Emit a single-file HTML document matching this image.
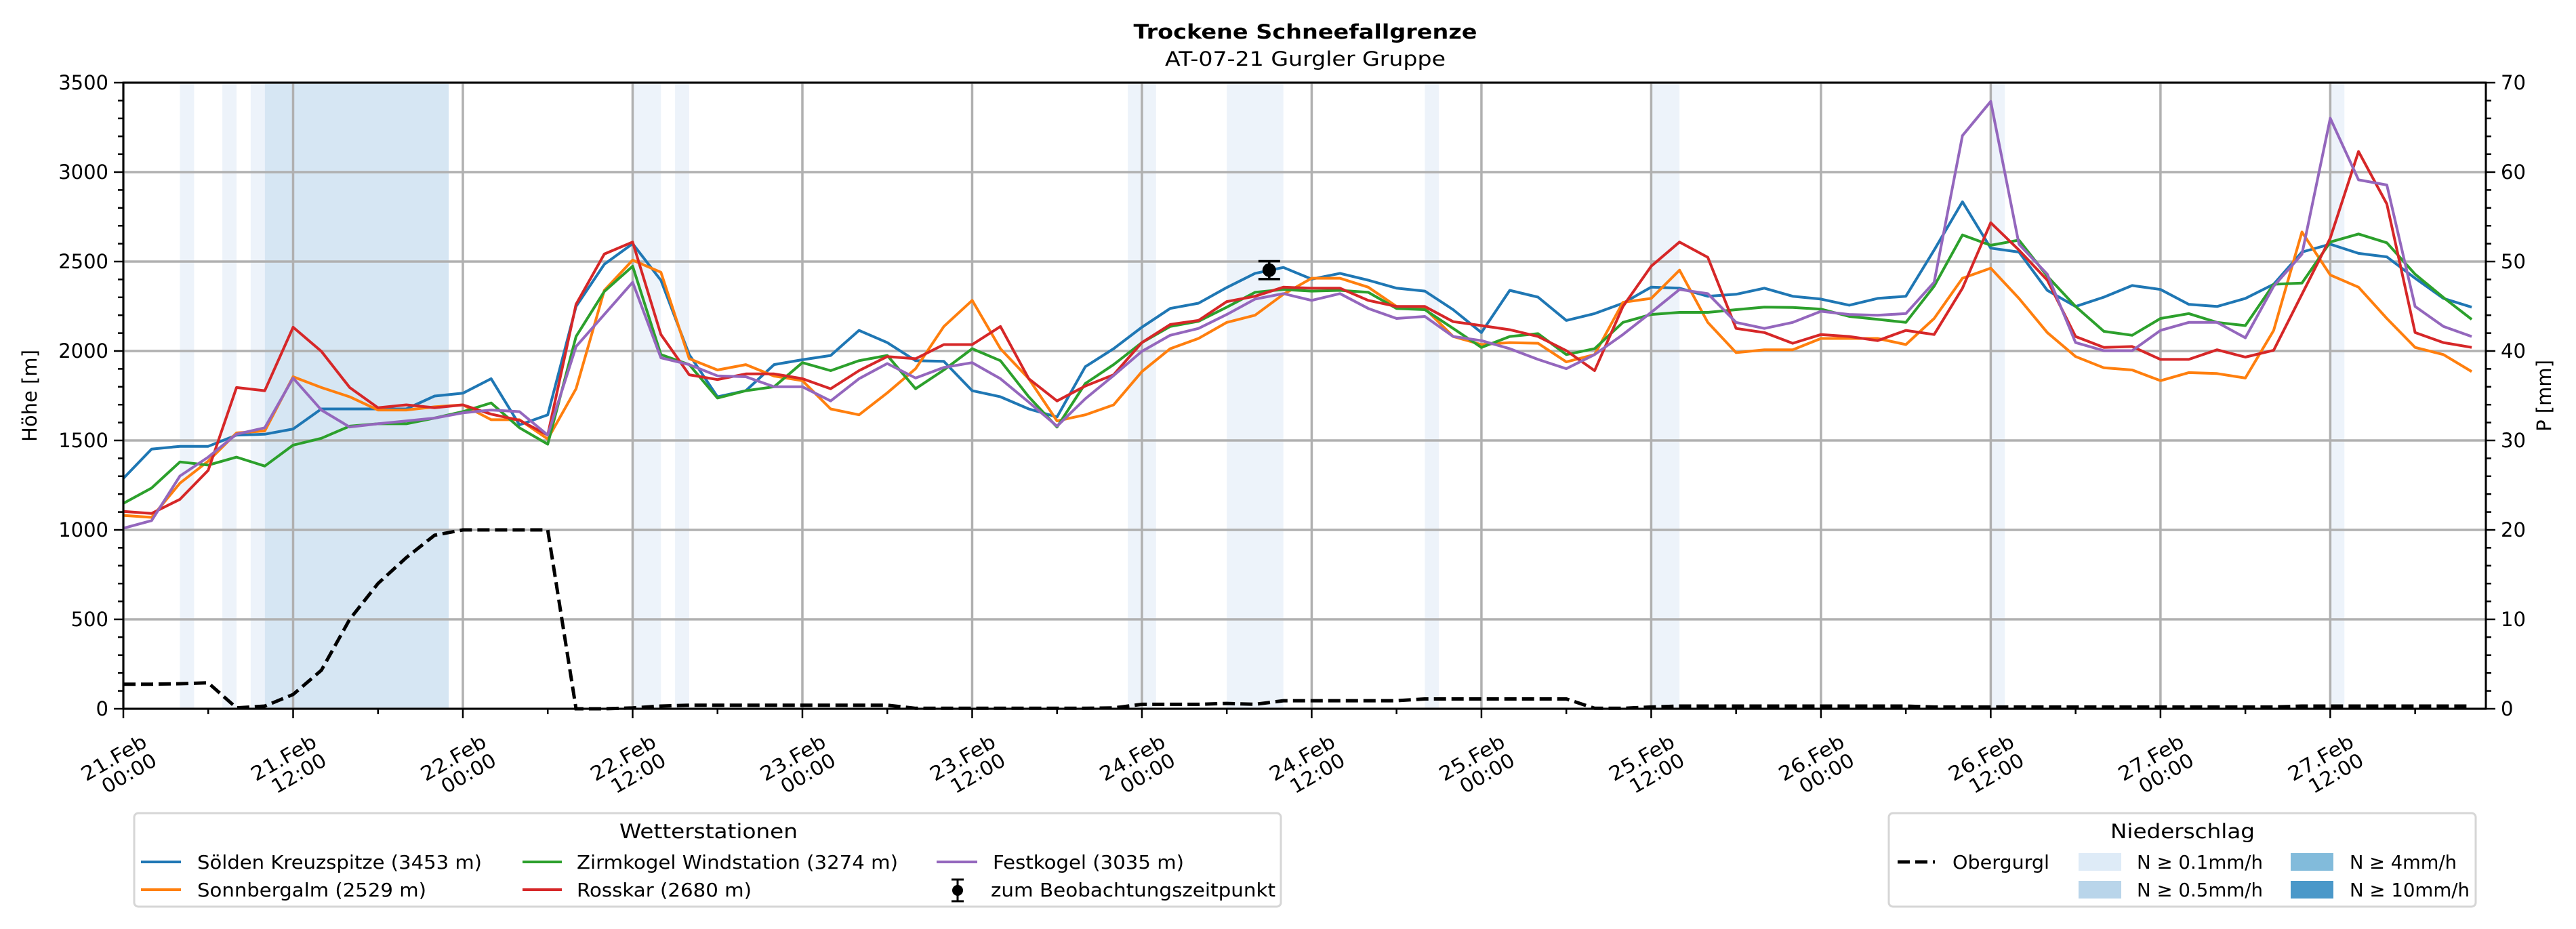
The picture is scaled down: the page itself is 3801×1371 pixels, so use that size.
<!DOCTYPE html>
<html><head><meta charset="utf-8">
<style>
html,body{margin:0;padding:0;background:#fff;}
svg{display:block;font-family:"DejaVu Sans","Liberation Sans",sans-serif;}
</style></head>
<body>
<svg id="chart" width="3801" height="1371" viewBox="0 0 3801 1371" xmlns="http://www.w3.org/2000/svg">
<rect width="3801" height="1371" fill="#fff"/>
<g id="bands"></g>
<g id="grid"></g>
<g id="series"></g>
<g id="axes"></g>
<text x="1926" y="57" font-size="29" font-weight="bold" text-anchor="middle" textLength="507" lengthAdjust="spacingAndGlyphs">Trockene Schneefallgrenze</text>
<text x="1926" y="97" font-size="29" text-anchor="middle" textLength="414" lengthAdjust="spacingAndGlyphs">AT-07-21 Gurgler Gruppe</text>
<text transform="translate(54,584) rotate(-90)" font-size="29" text-anchor="middle">Höhe [m]</text>
<text transform="translate(3764,584) rotate(-90)" font-size="29" text-anchor="middle">P [mm]</text>

<g>
<rect x="198" y="1200" width="1692" height="138" rx="6" fill="#fff" stroke="#d6d6d6" stroke-width="3"/>
<text x="914" y="1237" font-size="29" textLength="263" lengthAdjust="spacingAndGlyphs">Wetterstationen</text>
<g><line x1="208" y1="1272" x2="267" y2="1272" stroke="#1f77b4" stroke-width="4"/><text x="291" y="1282" font-size="28" textLength="420" lengthAdjust="spacingAndGlyphs">Sölden Kreuzspitze (3453 m)</text></g>
<g><line x1="771" y1="1272" x2="829" y2="1272" stroke="#2ca02c" stroke-width="4"/><text x="851" y="1282" font-size="28" textLength="474" lengthAdjust="spacingAndGlyphs">Zirmkogel Windstation (3274 m)</text></g>
<g><line x1="1382" y1="1272" x2="1442" y2="1272" stroke="#9467bd" stroke-width="4"/><text x="1465" y="1282" font-size="28" textLength="282" lengthAdjust="spacingAndGlyphs">Festkogel (3035 m)</text></g>
<g><line x1="208" y1="1313" x2="267" y2="1313" stroke="#ff7f0e" stroke-width="4"/><text x="291" y="1323" font-size="28" textLength="338" lengthAdjust="spacingAndGlyphs">Sonnbergalm (2529 m)</text></g>
<g><line x1="771" y1="1313" x2="829" y2="1313" stroke="#d62728" stroke-width="4"/><text x="851" y="1323" font-size="28" textLength="258" lengthAdjust="spacingAndGlyphs">Rosskar (2680 m)</text></g>
<g><line x1="1413" y1="1298" x2="1413" y2="1330" stroke="#000" stroke-width="3"/><line x1="1404" y1="1298" x2="1422" y2="1298" stroke="#000" stroke-width="3"/><line x1="1404" y1="1330" x2="1422" y2="1330" stroke="#000" stroke-width="3"/><circle cx="1413" cy="1314" r="8"/><text x="1462" y="1323" font-size="28" textLength="420" lengthAdjust="spacingAndGlyphs">zum Beobachtungszeitpunkt</text></g>
</g>

<g>
<rect x="2787" y="1200" width="866" height="138" rx="6" fill="#fff" stroke="#d6d6d6" stroke-width="3"/>
<text x="3114" y="1237" font-size="29" textLength="213" lengthAdjust="spacingAndGlyphs">Niederschlag</text>
<g><line x1="2800" y1="1272" x2="2855" y2="1272" stroke="#000" stroke-width="5" stroke-dasharray="18,8"/><text x="2881" y="1282" font-size="28" textLength="143" lengthAdjust="spacingAndGlyphs">Obergurgl</text></g>
<g><rect x="3067" y="1259" width="63" height="26" fill="#deebf7"/><text x="3153" y="1282" font-size="28" textLength="186" lengthAdjust="spacingAndGlyphs">N ≥ 0.1mm/h</text></g>
<g><rect x="3380" y="1259" width="63" height="26" fill="#82bbdb"/><text x="3467" y="1282" font-size="28" textLength="158" lengthAdjust="spacingAndGlyphs">N ≥ 4mm/h</text></g>
<g><rect x="3067" y="1300" width="63" height="26" fill="#b9d5ea"/><text x="3153" y="1323" font-size="28" textLength="186" lengthAdjust="spacingAndGlyphs">N ≥ 0.5mm/h</text></g>
<g><rect x="3380" y="1300" width="63" height="26" fill="#4a98c9"/><text x="3467" y="1323" font-size="28" textLength="177" lengthAdjust="spacingAndGlyphs">N ≥ 10mm/h</text></g>
</g>
</svg>
<script>
// ---- data ----
const hours = [];
for (let h = 0; h <= 166; h += 2) hours.push(h);
const soelden = [1288,1452,1467,1467,1530,1535,1564,1676,1676,1676,1676,1748,1764,1845,1587,1643,2249,2485,2600,2395,1980,1744,1778,
1924,1951,1975,2115,2047,1946,1942,1778,1744,1676,1631,1912,2013,2133,2238,2267,2355,2434,2467,2402,2434,2396,2351,
2335,2231,2103,2339,2301,2171,2209,2267,2357,2351,2306,2317,2351,2306,2290,2256,2294,2306,2564,2834,2575,2553,
2339,2249,2301,2366,2344,2261,2249,2294,2373,2553,2597,2546,2526,2407,2294,2245];
const sonnbergalm = [1081,1070,1261,1384,1542,1553,1856,1796,1744,1670,1670,1688,1699,1616,1616,1508,1789,2339,2508,2440,1957,1894,1924,
1860,1834,1676,1643,1766,1901,2137,2283,2013,1845,1609,1643,1699,1885,2013,2070,2160,2200,2317,2407,2407,2357,2249,
2238,2081,2036,2047,2043,1939,1980,2272,2294,2452,2160,1991,2007,2007,2070,2070,2070,2036,2182,2407,2463,2294,
2103,1969,1906,1894,1834,1879,1874,1849,2115,2665,2425,2357,2182,2020,1980,1885];
const zirmkogel = [1148,1234,1380,1362,1407,1357,1474,1512,1580,1593,1593,1625,1661,1710,1571,1479,2081,2333,2474,1980,1924,1737,1778,
1800,1935,1890,1946,1975,1789,1894,2013,1946,1744,1575,1818,1924,2047,2137,2166,2245,2328,2344,2335,2339,2328,2238,
2231,2126,2020,2081,2097,1980,2013,2160,2204,2216,2216,2231,2245,2243,2234,2193,2177,2160,2362,2649,2591,2620,
2418,2249,2110,2088,2182,2209,2160,2142,2373,2380,2609,2654,2605,2429,2299,2177];
const rosskar = [1103,1092,1171,1333,1796,1778,2133,1998,1796,1683,1699,1683,1699,1647,1613,1530,2261,2542,2609,2092,1867,1840,1872,
1872,1845,1789,1890,1969,1957,2036,2036,2137,1845,1721,1804,1867,2047,2148,2171,2276,2306,2357,2351,2351,2283,2249,
2249,2164,2142,2119,2081,2002,1890,2249,2474,2609,2524,2126,2103,2043,2092,2081,2058,2115,2092,2351,2717,2564,
2396,2081,2020,2025,1953,1953,2007,1966,2004,2317,2631,3115,2822,2103,2047,2020];
const festkogel = [1009,1052,1301,1407,1535,1571,1849,1670,1575,1593,1609,1625,1654,1670,1661,1530,2025,2204,2384,1962,1924,1861,1856,
1800,1800,1721,1845,1930,1849,1908,1935,1845,1714,1580,1733,1863,1998,2088,2126,2204,2290,2321,2283,2321,2238,2182,
2193,2081,2058,2013,1953,1901,1980,2092,2216,2344,2321,2160,2126,2160,2222,2204,2200,2209,2384,3204,3395,2597,
2429,2047,2002,2002,2115,2160,2160,2074,2362,2541,3301,2957,2928,2249,2137,2081];
const obergurglMm = [2.75,2.75,2.8,2.9,0.1,0.3,1.6,4.3,10,14,16.9,19.4,20,20,20,20,0,0,0.1,0.3,0.4,0.4,0.4,0.4,0.4,0.4,0.4,0.4,
0.05,0.05,0.05,0.05,0.05,0.05,0.05,0.1,0.5,0.5,0.5,0.6,0.5,0.9,0.9,0.9,0.9,0.9,1.1,1.1,1.1,1.1,1.1,1.1,0.05,0.05,0.2,0.3,
0.3,0.3,0.3,0.3,0.3,0.3,0.3,0.3,0.2,0.2,0.2,0.2,0.2,0.2,0.2,0.2,0.2,0.2,0.2,0.2,0.2,0.3,0.3,0.3,0.3,0.3,0.3,0.3];
const bandStart = [4,7,9,10,36,39,71,78,92,108,132,156];
const bandEnd   = [5,8,10,23,38,40,73,82,93,110,133,157];
const bandLevel = [1,1,1,2,1,1,1,1,1,1,1,1];
const obsHour = [81];
const obsValue = [2452];
const obsErr = [50];
const yTicks = [0,500,1000,1500,2000,2500,3000,3500];
const y2Ticks = [0,10,20,30,40,50,60,70];
const xTickDays = ["21.Feb","21.Feb","22.Feb","22.Feb","23.Feb","23.Feb","24.Feb","24.Feb","25.Feb","25.Feb","26.Feb","26.Feb","27.Feb","27.Feb"];
const xTickTimes = ["00:00","12:00","00:00","12:00","00:00","12:00","00:00","12:00","00:00","12:00","00:00","12:00","00:00","12:00"];

// ---- scales ----
const L = 182, R = 3668, T = 122, B = 1046, XMAX = 167, YMAX = 3500, Y2MAX = 70;
const xs = t => L + t * (R - L) / XMAX;
const ys = v => B - v * (B - T) / YMAX;
const y2s = v => B - v * (B - T) / Y2MAX;
const NS = "http://www.w3.org/2000/svg";
function mk(tag, attrs, parent) {
  const e = document.createElementNS(NS, tag);
  for (const k in attrs) e.setAttribute(k, attrs[k]);
  parent.appendChild(e);
  return e;
}
const gB = document.getElementById('bands'), gG = document.getElementById('grid'),
      gS = document.getElementById('series'), gA = document.getElementById('axes');

// bands
bandStart.forEach((s, i) => {
  const r = mk('rect', {x: xs(s), y: T, width: xs(bandEnd[i]) - xs(s), height: B - T,
    fill: bandLevel[i] === 2 ? '#d6e6f3' : '#edf3fa'}, gB);
  
  
});

// grid
yTicks.forEach(v => {
  const l = mk('line', {x1: L, x2: R, y1: ys(v), y2: ys(v), stroke: '#b0b0b0', 'stroke-width': 3.5}, gG);
  
  
});
xTickDays.forEach((d, i) => {
  const x = xs(i * 12);
  const l = mk('line', {x1: x, x2: x, y1: T, y2: B, stroke: '#b0b0b0', 'stroke-width': 3.5}, gG);
  
  
});

// obergurgl dashed
const op = hours.map((h, i) => xs(h).toFixed(1) + ',' + y2s(obergurglMm[i]).toFixed(1)).join(' ');
const obl = mk('polyline', {points: op, fill: 'none', stroke: '#000', 'stroke-width': 5, 'stroke-dasharray': '18,8'}, gS);



// station series
const seriesList = [
  [soelden, '#1f77b4', 'soelden-line'],
  [sonnbergalm, '#ff7f0e', 'sonnbergalm-line'],
  [zirmkogel, '#2ca02c', 'zirmkogel-line'],
  [rosskar, '#d62728', 'rosskar-line'],
  [festkogel, '#9467bd', 'festkogel-line']
];
seriesList.forEach(([vals, col, name]) => {
  const pts = hours.map((h, i) => xs(h).toFixed(1) + ',' + ys(vals[i]).toFixed(1)).join(' ');
  const p = mk('polyline', {points: pts, fill: 'none', stroke: col, 'stroke-width': 4, 'stroke-linejoin': 'round'}, gS);
  
  
});

// observation point
obsHour.forEach((h, i) => {
  const g = mk('g', {}, gS);
  
  
  const x = xs(h), y1 = ys(obsValue[i] + obsErr[i]), y2 = ys(obsValue[i] - obsErr[i]);
  mk('line', {x1: x, x2: x, y1: y1, y2: y2, stroke: '#000', 'stroke-width': 3.5}, g);
  mk('line', {x1: x - 16, x2: x + 16, y1: y1, y2: y1, stroke: '#000', 'stroke-width': 3.5}, g);
  mk('line', {x1: x - 16, x2: x + 16, y1: y2, y2: y2, stroke: '#000', 'stroke-width': 3.5}, g);
  mk('circle', {cx: x, cy: ys(obsValue[i]), r: 10, fill: '#000'}, g);
});

// axes frame
const fr = mk('rect', {x: L, y: T, width: R - L, height: B - T, fill: 'none', stroke: '#000', 'stroke-width': 3}, gA);



// left ticks
for (let v = 0; v <= YMAX; v += 100) {
  const major = v % 500 === 0;
  mk('line', {x1: L - (major ? 14 : 8), x2: L, y1: ys(v), y2: ys(v), stroke: '#000', 'stroke-width': 2.5}, gA);
}
yTicks.forEach(v => {
  const t = mk('text', {x: L - 22, y: ys(v) + 10, 'font-size': 29, 'text-anchor': 'end'}, gA);
  t.textContent = v;
  
  
});
// right ticks
for (let v = 0; v <= Y2MAX; v += 2) {
  const major = v % 10 === 0;
  mk('line', {x1: R, x2: R + (major ? 14 : 8), y1: y2s(v), y2: y2s(v), stroke: '#000', 'stroke-width': 2.5}, gA);
}
y2Ticks.forEach(v => {
  const t = mk('text', {x: R + 22, y: y2s(v) + 10, 'font-size': 29, 'text-anchor': 'start'}, gA);
  t.textContent = v;
  
  
});
// x ticks
for (let h = 0; h <= XMAX; h += 6) {
  const major = h % 12 === 0;
  mk('line', {x1: xs(h), x2: xs(h), y1: B, y2: B + (major ? 14 : 8), stroke: '#000', 'stroke-width': 2.5}, gA);
}
xTickDays.forEach((d, i) => {
  const x = xs(i * 12);
  const g = mk('g', {transform: 'translate(' + (x - 9) + ',1127) rotate(-30)'}, gA);
  
  
  const t1 = mk('text', {x: 0, y: 0, 'font-size': 29, 'text-anchor': 'middle', textLength: 106, lengthAdjust: 'spacingAndGlyphs'}, g);
  t1.textContent = d;
  const t2 = mk('text', {x: 8, y: 31, 'font-size': 29, 'text-anchor': 'middle', textLength: 88, lengthAdjust: 'spacingAndGlyphs'}, g);
  t2.textContent = xTickTimes[i];
});
</script>
</body></html>
